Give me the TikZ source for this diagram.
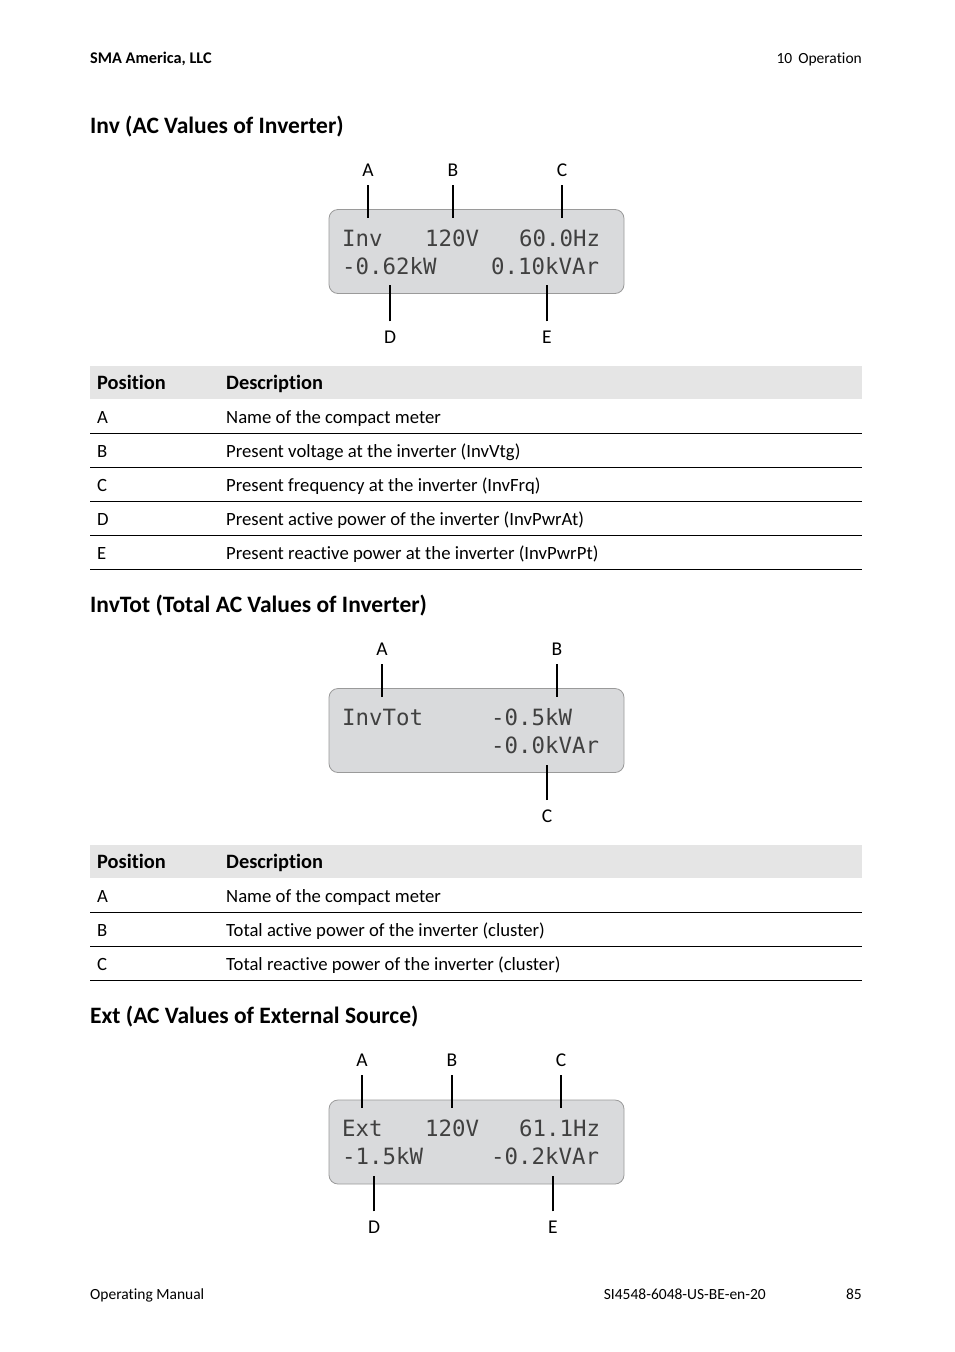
\documentclass[tikz,border=0pt]{standalone}
\usepackage{fontspec}
\setmainfont{Carlito}[Ligatures=NoCommon]
\newfontfamily\lcdfont{DejaVu Sans Mono}

\definecolor{lcdgray}{HTML}{D9DADC}
\definecolor{lcdedge}{HTML}{9A9A9A}
\definecolor{headgray}{HTML}{E5E5E5}
\definecolor{lcdink}{HTML}{404040}

\tikzset{
  txt/.style={anchor=base west,inner sep=0pt,font=\fontsize{18.7}{21}\selectfont},
  bold/.style={txt,font=\fontsize{20.4}{23}\selectfont\bfseries},
  heading/.style={txt,font=\fontsize{23.5}{26}\selectfont\bfseries},
  small/.style={anchor=base west,inner sep=0pt,font=\fontsize{15.5}{17}\selectfont},
  lcd/.style={draw=lcdedge,fill=lcdgray,line width=0.8pt,rounded corners=9pt,
    minimum width=295pt,minimum height=84pt,inner sep=0pt},
  lcdtxt/.style={anchor=base west,inner sep=0pt,text=lcdink,
    font=\lcdfont\fontsize{22.4}{24}\selectfont},
  poslabel/.style={anchor=base,inner sep=0pt,font=\fontsize{19.5}{21}\selectfont},
  leader/.style={line width=1.4pt,shorten <=9pt},
  rule/.style={line width=0.8pt}
}

\begin{document}
\begin{tikzpicture}[x=1pt,y=-1pt]
  \useasboundingbox (0,0) rectangle (954,1352);

  % page header and footer
  \node[small,font=\fontsize{16.3}{18}\selectfont\bfseries] (hdl) at (90,63) {SMA America, LLC};
  \node[small,anchor=base east] (hdr) at (862,63) {10\hspace{6pt}Operation};
  \node[small] (ftl) at (90,1299) {Operating Manual};
  \node[small,anchor=base east] (ftm) at (766,1299) {SI4548-6048-US-BE-en-20};
  \node[small,anchor=base east] (ftr) at (862,1299) {85};

  % ---- Inv ----
  \node[heading] (h1) at (90,133) {Inv (AC Values of Inverter)};
  \node[lcd] (inv) at (476.5,251.5) {};
  \node[lcdtxt] (invname) at (342,246) {Inv};
  \node[lcdtxt] (invvtg) at (425,246) {120V};
  \node[lcdtxt] (invfrq) at (519,246) {60.0Hz};
  \node[lcdtxt] (invpwr) at (342,274) {-0.62kW};
  \node[lcdtxt] (invvar) at (491,274) {0.10kVAr};

  \foreach \n/\x in {A/368,B/453,C/562}{
    \node[poslabel] (inv\n) at (\x,176) {\n};
    \coordinate (inv\n e) at (\x,218);
    \draw[leader] (inv\n) -- (inv\n e);
  }
  \foreach \n/\x in {D/390,E/547}{
    \node[poslabel] (inv\n) at (\x,343) {\n};
    \coordinate (inv\n e) at (\x,285);
    \draw[leader] (inv\n) -- (inv\n e);
  }

  \fill[headgray] (90,366) rectangle (862,399);
  \node[bold] (t1pos) at (97,389) {Position};
  \node[bold] (t1desc) at (226,389) {Description};
  \foreach \p/\d [count=\i] in {A/Name of the compact meter,
      B/Present voltage at the inverter (InvVtg),
      C/Present frequency at the inverter (InvFrq),
      D/Present active power of the inverter (InvPwrAt),
      E/Present reactive power at the inverter (InvPwrPt)}{
    \node[txt] (t1p\i) at (97,399+34*\i-10) {\p};
    \node[txt] (t1d\i) at (226,399+34*\i-10) {\d};
    \draw[rule] (90,399+34*\i) -- (862,399+34*\i);
  }

  % ---- InvTot ----
  \node[heading] (h2) at (90,612) {InvTot (Total AC Values of Inverter)};
  \node[lcd] (tot) at (476.5,730.5) {};
  \node[lcdtxt] (totname) at (342,725) {InvTot};
  \node[lcdtxt] (totpwr) at (491,725) {-0.5kW};
  \node[lcdtxt] (totvar) at (491,753) {-0.0kVAr};

  \foreach \n/\x in {A/382,B/557}{
    \node[poslabel] (tot\n) at (\x,655) {\n};
    \coordinate (tot\n e) at (\x,697);
    \draw[leader] (tot\n) -- (tot\n e);
  }
  \node[poslabel] (totC) at (547,822) {C};
  \coordinate (totCe) at (547,765);
  \draw[leader] (totC) -- (totCe);

  \fill[headgray] (90,845) rectangle (862,878);
  \node[bold] (t2pos) at (97,868) {Position};
  \node[bold] (t2desc) at (226,868) {Description};
  \foreach \p/\d [count=\i] in {A/Name of the compact meter,
      B/Total active power of the inverter (cluster),
      C/Total reactive power of the inverter (cluster)}{
    \node[txt] (t2p\i) at (97,878+34*\i-10) {\p};
    \node[txt] (t2d\i) at (226,878+34*\i-10) {\d};
    \draw[rule] (90,878+34*\i) -- (862,878+34*\i);
  }

  % ---- Ext ----
  \node[heading] (h3) at (90,1023) {Ext (AC Values of External Source)};
  \node[lcd] (ext) at (476.5,1142) {};
  \node[lcdtxt] (extname) at (342,1136) {Ext};
  \node[lcdtxt] (extvtg) at (425,1136) {120V};
  \node[lcdtxt] (extfrq) at (519,1136) {61.1Hz};
  \node[lcdtxt] (extpwr) at (342,1164) {-1.5kW};
  \node[lcdtxt] (extvar) at (491,1164) {-0.2kVAr};

  \foreach \n/\x in {A/362,B/452,C/561}{
    \node[poslabel] (ext\n) at (\x,1066) {\n};
    \coordinate (ext\n e) at (\x,1108);
    \draw[leader] (ext\n) -- (ext\n e);
  }
  \foreach \n/\x in {D/374,E/553}{
    \node[poslabel] (ext\n) at (\x,1233) {\n};
    \coordinate (ext\n e) at (\x,1176);
    \draw[leader] (ext\n) -- (ext\n e);
  }
\end{tikzpicture}
\end{document}
